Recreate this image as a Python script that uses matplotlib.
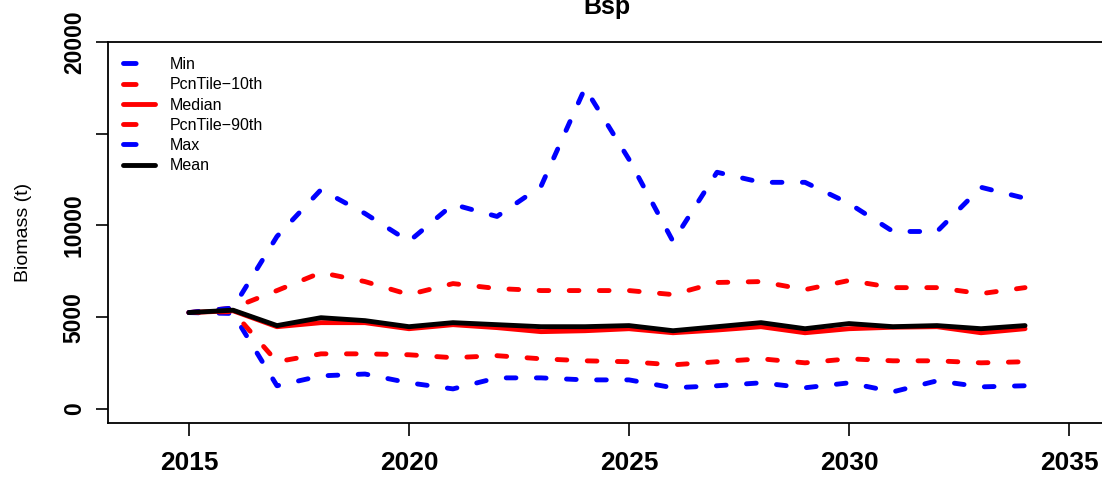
import matplotlib
matplotlib.use("Agg")
import matplotlib.pyplot as plt
from matplotlib.lines import Line2D

plt.rcParams['font.family'] = ['Liberation Sans', 'DejaVu Sans']

years = list(range(2015, 2035))

b_min = [5250, 5200, 1260, 1800, 1900, 1420, 1090, 1690, 1690, 1580,
         1580, 1150, 1260, 1420, 1150, 1420, 930, 1530, 1200, 1260]
b_p10 = [5250, 5300, 2570, 3000, 3000, 2950, 2790, 2900, 2730, 2620,
         2570, 2400, 2570, 2730, 2510, 2730, 2620, 2620, 2510, 2570]
b_med = [5250, 5350, 4480, 4700, 4700, 4370, 4590, 4430, 4210, 4260,
         4370, 4150, 4300, 4480, 4150, 4370, 4450, 4480, 4150, 4370]
b_p90 = [5250, 5500, 6450, 7430, 6940, 6230, 6830, 6560, 6450, 6450,
         6450, 6230, 6890, 6940, 6500, 7000, 6610, 6610, 6280, 6610]
b_max = [5250, 5500, 9400, 11950, 10650, 9130, 11150, 10490, 12130, 17490,
         13600, 9130, 12900, 12350, 12350, 11200, 9670, 9670, 12080, 11480]
b_mean = [5250, 5380, 4540, 4970, 4810, 4480, 4700, 4590, 4480, 4480,
          4540, 4260, 4480, 4700, 4370, 4650, 4480, 4540, 4370, 4540]

labels = ['Min', 'PcnTile\u221210th', 'Median', 'PcnTile\u221290th', 'Max', 'Mean']
colors = ['blue', 'red', 'red', 'red', 'blue', 'black']
dashed = [True, True, False, True, True, False]
series = [b_min, b_p10, b_med, b_p90, b_max, b_mean]

W, H = 1102, 479
fig = plt.figure(figsize=(W / 100, H / 100), dpi=100)
ax = fig.add_axes([108 / W, 1 - 423 / H, 998 / W, 381 / H])

lw = 3.5
dash = (2.0, 4.2)
for vals, c, d in zip(series, colors, dashed):
    if d:
        ax.plot(years, vals, color=c, lw=lw, linestyle=(0, dash),
                dash_capstyle='round', solid_capstyle='round')
    else:
        ax.plot(years, vals, color=c, lw=lw, solid_capstyle='round',
                solid_joinstyle='round')

ax.set_xlim(2013.16, 2035.84)
ax.set_ylim(-770, 20000)

ax.set_xticks([2015, 2020, 2025, 2030, 2035])
ax.set_xticklabels(['2015', '2020', '2025', '2030', '2035'],
                   fontsize=19, fontweight='bold')
ax.set_yticks([0, 5000, 10000, 15000, 20000])
ax.set_yticklabels(['0', '5000', '10000', '', '20000'], fontsize=16.5,
                   fontweight='bold', rotation=90, va='center')
ax.tick_params(axis='both', direction='out', length=9, width=1.2)
ax.tick_params(axis='x', pad=11)
ax.tick_params(axis='y', pad=7)

for s in ax.spines.values():
    s.set_linewidth(1.3)

ax.set_ylabel('Biomass (t)', fontsize=14)
ax.yaxis.set_label_coords(-0.076, 0.5)

fig.text(607 / W, 1 - 14 / H, 'Bsp', ha='center', va='baseline',
         fontsize=18, fontweight='bold')

handles = []
for c, d in zip(colors, dashed):
    if d:
        handles.append(Line2D([], [], color=c, lw=lw, linestyle=(0, (2.6, 6)),
                              dash_capstyle='round'))
    else:
        handles.append(Line2D([], [], color=c, lw=lw, solid_capstyle='round'))
fig.legend(handles, labels, loc='upper left',
           bbox_to_anchor=(123 / W, 1 - 57 / H), bbox_transform=fig.transFigure,
           frameon=False, fontsize=11.5, borderpad=0, borderaxespad=0,
           handlelength=2.0, handletextpad=0.9, labelspacing=0.33)

fig.savefig('out.png', dpi=100)
